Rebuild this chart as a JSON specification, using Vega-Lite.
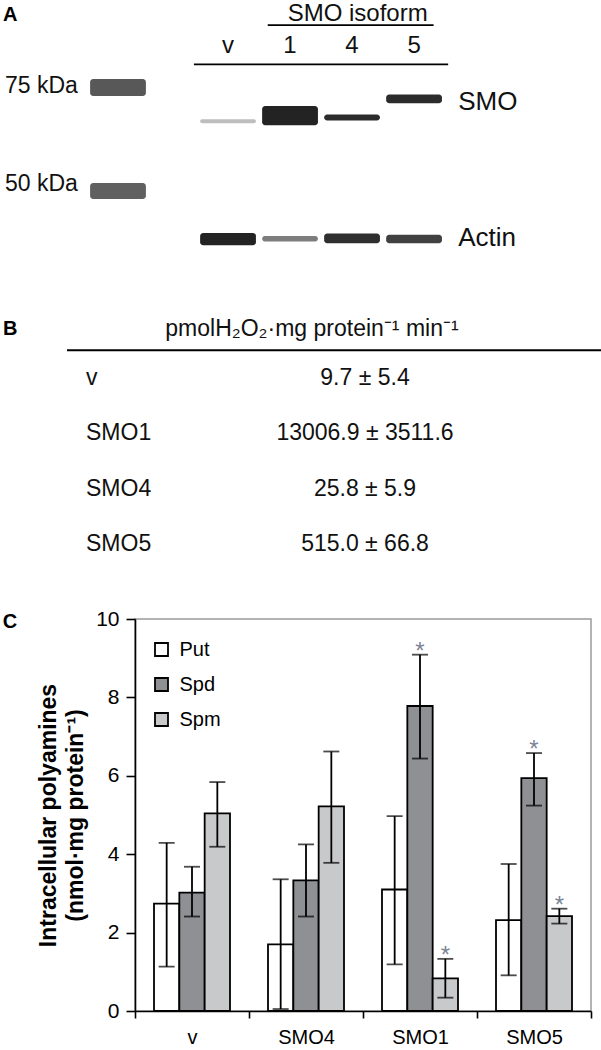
{
  "$schema": "https://vega.github.io/schema/vega-lite/v6.json",
  "padding": 0,
  "autosize": {"type": "pad"},
  "background": "white",
  "spacing": 0,
  "config": {
    "font": "Liberation Sans",
    "view": {"stroke": null},
    "text": {"color": "#111111"}
  },
  "vconcat": [
    {
      "width": 601,
      "height": 65,
      "layer": [
        {
          "data": {"values": [{"row": "iso", "lane": "kDa", "t": "A"}]},
          "mark": {"type": "text", "align": "left", "baseline": "middle", "fontSize": 20, "fontWeight": "bold", "dx": -11, "color": "black"},
          "encoding": {
            "x": {"field": "lane", "type": "nominal", "bandPosition": 0, "scale": {"type": "band", "domain": ["kDa", "M", "gap", "v", "1", "4", "5", "lab"], "paddingInner": 0.1, "paddingOuter": 0.896, "align": 0.1268, "round": false}, "axis": null},
            "y": {"field": "row", "type": "nominal", "bandPosition": 0.45, "scale": {"type": "band", "domain": ["iso", "lane"], "paddingInner": 0, "paddingOuter": 0, "round": false}, "axis": null},
            "text": {"field": "t"}
          }
        },
        {
          "data": {"values": [{"row": "iso", "lane": "4", "t": "SMO isoform"}]},
          "mark": {"type": "text", "align": "center", "baseline": "middle", "fontSize": 24},
          "encoding": {
            "x": {"field": "lane", "type": "nominal", "bandPosition": 0.6, "scale": {"type": "band", "domain": ["kDa", "M", "gap", "v", "1", "4", "5", "lab"], "paddingInner": 0.1, "paddingOuter": 0.896, "align": 0.1268, "round": false}, "axis": null},
            "y": {"field": "row", "type": "nominal", "bandPosition": 0.42, "scale": {"type": "band", "domain": ["iso", "lane"], "paddingInner": 0, "paddingOuter": 0, "round": false}, "axis": null},
            "text": {"field": "t"}
          }
        },
        {
          "data": {"values": [
            {"row": "lane", "lane": "v", "t": "v"},
            {"row": "lane", "lane": "1", "t": "1"},
            {"row": "lane", "lane": "4", "t": "4"},
            {"row": "lane", "lane": "5", "t": "5"}
          ]},
          "mark": {"type": "text", "align": "center", "baseline": "middle", "fontSize": 24},
          "encoding": {
            "x": {"field": "lane", "type": "nominal", "bandPosition": 0.5, "scale": {"type": "band", "domain": ["kDa", "M", "gap", "v", "1", "4", "5", "lab"], "paddingInner": 0.1, "paddingOuter": 0.896, "align": 0.1268, "round": false}, "axis": null},
            "y": {"field": "row", "type": "nominal", "bandPosition": 0.4, "scale": {"type": "band", "domain": ["iso", "lane"], "paddingInner": 0, "paddingOuter": 0, "round": false}, "axis": null},
            "text": {"field": "t"}
          }
        },
        {
          "data": {"values": [{"row": "iso", "from": "1", "to": "5"}]},
          "mark": {"type": "rule", "color": "black", "strokeWidth": 1.8},
          "encoding": {
            "x": {"field": "from", "type": "nominal", "bandPosition": 0.1, "scale": {"type": "band", "domain": ["kDa", "M", "gap", "v", "1", "4", "5", "lab"], "paddingInner": 0.1, "paddingOuter": 0.896, "align": 0.1268, "round": false}, "axis": null},
            "x2": {"field": "to", "bandPosition": 0.85},
            "y": {"field": "row", "type": "nominal", "bandPosition": 0.77, "scale": {"type": "band", "domain": ["iso", "lane"], "paddingInner": 0, "paddingOuter": 0, "round": false}, "axis": null}
          }
        },
        {
          "data": {"values": [{"row": "lane", "from": "gap", "to": "lab"}]},
          "mark": {"type": "rule", "color": "black", "strokeWidth": 1.8},
          "encoding": {
            "x": {"field": "from", "type": "nominal", "bandPosition": 1, "scale": {"type": "band", "domain": ["kDa", "M", "gap", "v", "1", "4", "5", "lab"], "paddingInner": 0.1, "paddingOuter": 0.896, "align": 0.1268, "round": false}, "axis": null},
            "x2": {"field": "to", "bandPosition": 0},
            "y": {"field": "row", "type": "nominal", "bandPosition": 0.98, "scale": {"type": "band", "domain": ["iso", "lane"], "paddingInner": 0, "paddingOuter": 0, "round": false}, "axis": null}
          }
        }
      ]
    },
    {
      "width": 601,
      "height": 215,
      "layer": [
        {
          "data": {"values": [
            {"lane": "v", "target": "SMO", "hi": 66.3, "lo": 65.3, "intensity": 0.2},
            {"lane": "1", "target": "SMO", "hi": 69.9, "lo": 64.8, "intensity": 0.97},
            {"lane": "4", "target": "SMO", "hi": 67.6, "lo": 66.0, "intensity": 0.92},
            {"lane": "5", "target": "SMO", "hi": 73.1, "lo": 70.6, "intensity": 0.92},
            {"lane": "v", "target": "Actin", "hi": 42.4, "lo": 40.4, "intensity": 0.97},
            {"lane": "1", "target": "Actin", "hi": 41.9, "lo": 41.0, "intensity": 0.5},
            {"lane": "4", "target": "Actin", "hi": 42.3, "lo": 40.7, "intensity": 0.9},
            {"lane": "5", "target": "Actin", "hi": 42.1, "lo": 40.7, "intensity": 0.8}
          ]},
          "mark": {"type": "rect", "cornerRadius": 3},
          "encoding": {
            "x": {"field": "lane", "type": "nominal", "scale": {"type": "band", "domain": ["kDa", "M", "gap", "v", "1", "4", "5", "lab"], "paddingInner": 0.1, "paddingOuter": 0.896, "align": 0.1268, "round": false}, "axis": null},
            "y": {"field": "hi", "type": "quantitative", "scale": {"type": "log", "domain": [35.09, 81.78], "nice": false}, "axis": null},
            "y2": {"field": "lo"},
            "color": {"field": "intensity", "type": "quantitative", "scale": {"domain": [0, 1], "range": ["#ececec", "#1e1e1e"]}, "legend": null}
          }
        },
        {
          "data": {"values": [
            {"lane": "M", "target": "75 kDa marker", "hi": 77.7, "lo": 72.7, "intensity": 0.68},
            {"lane": "M", "target": "50 kDa marker", "hi": 51.6, "lo": 48.45, "intensity": 0.64}
          ]},
          "mark": {"type": "rect", "cornerRadius": 3, "xOffset": 14},
          "encoding": {
            "x": {"field": "lane", "type": "nominal", "scale": {"type": "band", "domain": ["kDa", "M", "gap", "v", "1", "4", "5", "lab"], "paddingInner": 0.1, "paddingOuter": 0.896, "align": 0.1268, "round": false}, "axis": null},
            "y": {"field": "hi", "type": "quantitative", "scale": {"type": "log", "domain": [35.09, 81.78], "nice": false}, "axis": null},
            "y2": {"field": "lo"},
            "color": {"field": "intensity", "type": "quantitative", "scale": {"domain": [0, 1], "range": ["#ececec", "#1e1e1e"]}, "legend": null}
          }
        },
        {
          "data": {"values": [
            {"lane": "kDa", "kDa": 75.5, "t": "75 kDa"},
            {"lane": "kDa", "kDa": 51.3, "t": "50 kDa"}
          ]},
          "mark": {"type": "text", "align": "right", "baseline": "middle", "fontSize": 23, "dx": 8},
          "encoding": {
            "x": {"field": "lane", "type": "nominal", "bandPosition": 1, "scale": {"type": "band", "domain": ["kDa", "M", "gap", "v", "1", "4", "5", "lab"], "paddingInner": 0.1, "paddingOuter": 0.896, "align": 0.1268, "round": false}, "axis": null},
            "y": {"field": "kDa", "type": "quantitative", "scale": {"type": "log", "domain": [35.09, 81.78], "nice": false}, "axis": null},
            "text": {"field": "t"}
          }
        },
        {
          "data": {"values": [
            {"lane": "lab", "kDa": 71.0, "t": "SMO"},
            {"lane": "lab", "kDa": 41.56, "t": "Actin"}
          ]},
          "mark": {"type": "text", "align": "left", "baseline": "middle", "fontSize": 26, "dx": 10},
          "encoding": {
            "x": {"field": "lane", "type": "nominal", "bandPosition": 0, "scale": {"type": "band", "domain": ["kDa", "M", "gap", "v", "1", "4", "5", "lab"], "paddingInner": 0.1, "paddingOuter": 0.896, "align": 0.1268, "round": false}, "axis": null},
            "y": {"field": "kDa", "type": "quantitative", "scale": {"type": "log", "domain": [35.09, 81.78], "nice": false}, "axis": null},
            "text": {"field": "t"}
          }
        }
      ]
    },
    {
      "width": 601,
      "height": 326,
      "layer": [
        {
          "data": {"values": [{"row": "hdr", "col": "name", "t": "B"}]},
          "mark": {"type": "text", "align": "left", "baseline": "middle", "fontSize": 20, "fontWeight": "bold", "dx": -83, "color": "black"},
          "encoding": {
            "x": {"field": "col", "type": "nominal", "bandPosition": 0, "scale": {"type": "band", "domain": ["name", "value"], "paddingInner": 0, "paddingOuter": 0.6156, "align": 0.3755, "round": false}, "axis": null},
            "y": {"field": "row", "type": "nominal", "bandPosition": 0.617, "scale": {"type": "band", "domain": ["hdr", "v", "SMO1", "SMO4", "SMO5"], "paddingInner": 0, "paddingOuter": 0.437, "align": 0.2835, "round": false}, "axis": null},
            "text": {"field": "t"}
          }
        },
        {
          "data": {"values": [{"row": "hdr", "col": "value", "t": "pmolH₂O₂·mg protein⁻¹ min⁻¹"}]},
          "mark": {"type": "text", "align": "center", "baseline": "middle", "fontSize": 23},
          "encoding": {
            "x": {"field": "col", "type": "nominal", "bandPosition": 0.215, "scale": {"type": "band", "domain": ["name", "value"], "paddingInner": 0, "paddingOuter": 0.6156, "align": 0.3755, "round": false}, "axis": null},
            "y": {"field": "row", "type": "nominal", "bandPosition": 0.617, "scale": {"type": "band", "domain": ["hdr", "v", "SMO1", "SMO4", "SMO5"], "paddingInner": 0, "paddingOuter": 0.437, "align": 0.2835, "round": false}, "axis": null},
            "text": {"field": "t"}
          }
        },
        {
          "data": {"values": [{"row": "hdr", "col": "name"}]},
          "mark": {"type": "rule", "color": "black", "strokeWidth": 1.8, "xOffset": -19},
          "encoding": {
            "x": {"field": "col", "type": "nominal", "bandPosition": 0, "scale": {"type": "band", "domain": ["name", "value"], "paddingInner": 0, "paddingOuter": 0.6156, "align": 0.3755, "round": false}, "axis": null},
            "x2": {"value": "width"},
            "y": {"field": "row", "type": "nominal", "bandPosition": 1, "scale": {"type": "band", "domain": ["hdr", "v", "SMO1", "SMO4", "SMO5"], "paddingInner": 0, "paddingOuter": 0.437, "align": 0.2835, "round": false}, "axis": null}
          }
        },
        {
          "data": {"values": [
            {"row": "v", "value": "9.7 ± 5.4"},
            {"row": "SMO1", "value": "13006.9 ± 3511.6"},
            {"row": "SMO4", "value": "25.8 ± 5.9"},
            {"row": "SMO5", "value": "515.0 ± 66.8"}
          ]},
          "layer": [
            {
              "mark": {"type": "text", "align": "left", "baseline": "middle", "fontSize": 23},
              "encoding": {
                "x": {"datum": "name", "bandPosition": 0, "scale": {"type": "band", "domain": ["name", "value"], "paddingInner": 0, "paddingOuter": 0.6156, "align": 0.3755, "round": false}, "axis": null},
                "y": {"field": "row", "type": "nominal", "scale": {"type": "band", "domain": ["hdr", "v", "SMO1", "SMO4", "SMO5"], "paddingInner": 0, "paddingOuter": 0.437, "align": 0.2835, "round": false}, "axis": null},
                "text": {"field": "row"}
              }
            },
            {
              "mark": {"type": "text", "align": "center", "baseline": "middle", "fontSize": 23},
              "encoding": {
                "x": {"datum": "value", "bandPosition": 0.5, "scale": {"type": "band", "domain": ["name", "value"], "paddingInner": 0, "paddingOuter": 0.6156, "align": 0.3755, "round": false}, "axis": null},
                "y": {"field": "row", "type": "nominal", "scale": {"type": "band", "domain": ["hdr", "v", "SMO1", "SMO4", "SMO5"], "paddingInner": 0, "paddingOuter": 0.437, "align": 0.2835, "round": false}, "axis": null},
                "text": {"field": "value"}
              }
            }
          ]
        }
      ]
    },
    {
      "spacing": 16,
      "hconcat": [
        {
          "width": 20,
          "height": 6,
          "data": {"values": [{"t": "C"}]},
          "mark": {"type": "text", "align": "center", "baseline": "middle", "fontSize": 20, "fontWeight": "bold", "color": "black"},
          "encoding": {"text": {"field": "t"}}
        },
        {
          "width": 456,
          "height": 392,
          "view": {"stroke": "#9a9a9a", "strokeWidth": 1.5},
          "data": {"values": [
            {"group": "v", "amine": "Put", "mean": 2.74, "lo": 1.13, "hi": 4.29, "sig": false},
            {"group": "v", "amine": "Spd", "mean": 3.02, "lo": 2.41, "hi": 3.68, "sig": false},
            {"group": "v", "amine": "Spm", "mean": 5.04, "lo": 4.19, "hi": 5.84, "sig": false},
            {"group": "SMO4", "amine": "Put", "mean": 1.70, "lo": 0.05, "hi": 3.36, "sig": false},
            {"group": "SMO4", "amine": "Spd", "mean": 3.33, "lo": 2.41, "hi": 4.25, "sig": false},
            {"group": "SMO4", "amine": "Spm", "mean": 5.22, "lo": 3.78, "hi": 6.62, "sig": false},
            {"group": "SMO1", "amine": "Put", "mean": 3.10, "lo": 1.19, "hi": 4.97, "sig": false},
            {"group": "SMO1", "amine": "Spd", "mean": 7.78, "lo": 6.44, "hi": 9.09, "sig": true},
            {"group": "SMO1", "amine": "Spm", "mean": 0.83, "lo": 0.34, "hi": 1.33, "sig": true},
            {"group": "SMO5", "amine": "Put", "mean": 2.32, "lo": 0.91, "hi": 3.75, "sig": false},
            {"group": "SMO5", "amine": "Spd", "mean": 5.94, "lo": 5.24, "hi": 6.58, "sig": true},
            {"group": "SMO5", "amine": "Spm", "mean": 2.42, "lo": 2.23, "hi": 2.61, "sig": true}
          ]},
          "encoding": {
            "x": {
              "field": "group", "type": "nominal", "sort": ["v", "SMO4", "SMO1", "SMO5"],
              "scale": {"domain": ["v", "SMO4", "SMO1", "SMO5"], "paddingInner": 0, "paddingOuter": 0},
              "axis": {"title": null, "labelAngle": 0, "labelFontSize": 20, "labelColor": "black", "labelPadding": 9, "tickBand": "extent", "tickSize": 7, "tickColor": "black", "tickWidth": 1.6, "domainColor": "black", "domainWidth": 1.6, "grid": false}
            },
            "xOffset": {"field": "amine", "type": "nominal", "scale": {"domain": ["Put", "Spd", "Spm"], "paddingInner": 0, "paddingOuter": 0.75}}
          },
          "layer": [
            {
              "mark": {"type": "bar", "stroke": "black", "strokeWidth": 1.8},
              "encoding": {
                "y": {
                  "field": "mean", "type": "quantitative",
                  "scale": {"domain": [0, 10], "nice": false},
                  "axis": {"title": ["Intracellular polyamines", "(nmol·mg protein⁻¹)"], "titleFontSize": 23, "titleFontWeight": "bold", "titleColor": "black", "titlePadding": 8, "titleLineHeight": 27, "labelFontSize": 21, "labelColor": "black", "labelPadding": 7, "tickSize": 9, "tickColor": "black", "tickWidth": 1.6, "domainColor": "black", "domainWidth": 1.6, "values": [0, 2, 4, 6, 8, 10], "grid": false}
                },
                "fill": {
                  "field": "amine", "type": "nominal",
                  "scale": {"domain": ["Put", "Spd", "Spm"], "range": ["#ffffff", "#8f9094", "#c8c9cb"]},
                  "legend": {"title": null, "orient": "none", "legendX": 151.5, "legendY": 639.5, "symbolType": "square", "symbolSize": 169, "symbolStrokeColor": "black", "symbolStrokeWidth": 1.8, "symbolOpacity": 1, "labelFontSize": 20, "labelColor": "black", "labelOffset": 8, "rowPadding": 13, "padding": 0}
                }
              }
            },
            {
              "mark": {"type": "rule", "color": "black", "strokeWidth": 1.8},
              "encoding": {
                "y": {"field": "lo", "type": "quantitative"},
                "y2": {"field": "hi"}
              }
            },
            {
              "mark": {"type": "tick", "color": "black", "thickness": 1.8, "size": 16},
              "encoding": {"y": {"field": "lo", "type": "quantitative"}}
            },
            {
              "mark": {"type": "tick", "color": "black", "thickness": 1.8, "size": 16},
              "encoding": {"y": {"field": "hi", "type": "quantitative"}}
            },
            {
              "transform": [{"filter": "datum.sig"}],
              "mark": {"type": "text", "text": "*", "fontSize": 24, "baseline": "alphabetic", "dy": 4, "color": "#7b8494"},
              "encoding": {"y": {"field": "hi", "type": "quantitative"}}
            }
          ]
        }
      ]
    }
  ]
}
